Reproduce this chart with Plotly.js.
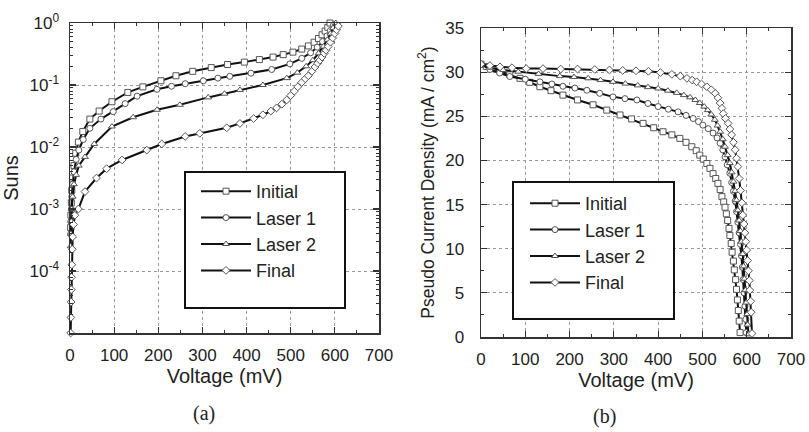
<!DOCTYPE html>
<html>
<head>
<meta charset="utf-8">
<script src="https://cdn.plot.ly/plotly-3.0.1.min.js"></script>
<style>
html,body{margin:0;padding:0;background:#fff;}
#chart{width:809px;height:432px;}
</style>
</head>
<body>
<div id="chart"></div>
<script>
// ---------- data ----------
var seriesNames = ["Initial", "Laser 1", "Laser 2", "Final"];
var seriesSymbols = ["square", "circle", "triangle-up", "diamond"];

// (a) Suns-Voc : voltage (mV) vs suns
var sunsV_initial = [1.5, 2, 3, 4, 6, 9, 13, 19, 29, 45, 66, 95, 131, 165, 206, 240, 278, 320, 357, 395, 429, 460, 483, 505, 525, 540, 553, 563, 571, 578, 584, 589, 594, 599];
var suns_initial = [0.000501, 0.000794, 0.00126, 0.00200, 0.00316, 0.00501, 0.00794, 0.0120, 0.0178, 0.0282, 0.0380, 0.0537, 0.0759, 0.0933, 0.117, 0.141, 0.166, 0.191, 0.214, 0.234, 0.257, 0.282, 0.309, 0.339, 0.380, 0.427, 0.490, 0.562, 0.646, 0.741, 0.851, 1.0, 1.20, 1.45];

var sunsV_laser1 = [1.5, 2, 3, 4, 6, 9, 14, 20, 30, 45, 70, 98, 125, 152, 197, 230, 261, 302, 335, 362, 410, 457, 498, 525, 545, 560, 572, 582, 590, 597, 603];
var suns_laser1 = [0.000398, 0.000631, 0.00100, 0.00158, 0.00251, 0.00398, 0.00631, 0.00891, 0.0132, 0.0200, 0.0282, 0.0372, 0.0501, 0.0661, 0.0851, 0.0955, 0.105, 0.117, 0.129, 0.138, 0.155, 0.178, 0.219, 0.269, 0.331, 0.407, 0.501, 0.617, 0.759, 0.933, 1.15];

var sunsV_laser2 = [1.5, 2, 3, 4, 6, 9, 14, 20, 34, 55, 95, 143, 197, 249, 313, 350, 385, 437, 491, 515, 535, 550, 563, 574, 583, 590, 596, 602, 607];
var suns_laser2 = [0.000251, 0.000398, 0.000631, 0.00100, 0.00158, 0.00251, 0.00355, 0.00501, 0.00692, 0.0112, 0.0214, 0.0302, 0.0398, 0.0479, 0.0631, 0.0724, 0.0832, 0.100, 0.129, 0.158, 0.200, 0.251, 0.324, 0.417, 0.537, 0.676, 0.832, 1.00, 1.20];

var sunsV_final = [1.5, 2, 2.5, 3, 3.5, 4, 5, 6, 8, 11, 19, 34, 60, 83, 118, 174, 208, 261, 294, 355, 385, 416, 437, 455, 468, 480, 491, 500, 508, 516, 525, 533, 540, 548, 555, 561, 566, 571, 576, 580, 585, 590, 595, 600, 604, 608, 612, 616];
var suns_final = [1.00e-5, 1.78e-5, 3.16e-5, 5.01e-5, 7.94e-5, 1.26e-4, 2.24e-4, 3.55e-4, 5.62e-4, 7.94e-4, 1.00e-3, 1.91e-3, 3.16e-3, 4.47e-3, 6.17e-3, 8.91e-3, 0.0112, 0.0148, 0.0166, 0.0204, 0.0240, 0.0288, 0.0331, 0.0380, 0.0427, 0.0490, 0.0575, 0.0676, 0.0794, 0.0933, 0.110, 0.126, 0.141, 0.166, 0.195, 0.224, 0.251, 0.282, 0.324, 0.363, 0.417, 0.490, 0.575, 0.676, 0.776, 0.891, 1.02, 1.20];

// (b) pseudo J-V : voltage (mV) vs current density (mA/cm2)
var jvV_initial = [0, 12, 25, 43, 65, 88, 110, 133, 158, 185, 218, 253, 284, 314, 340, 366, 390, 411, 431, 449, 463, 476, 486, 494, 502, 510, 517, 524, 530, 535, 540, 544, 548, 551, 554, 557, 560, 562, 565, 567, 570, 572, 575, 577, 579, 581, 583, 585];
var jvJ_initial = [30.9, 30.65, 30.4, 30.1, 29.7, 29.3, 28.85, 28.35, 27.9, 27.4, 26.85, 26.3, 25.7, 25.15, 24.7, 24.2, 23.7, 23.25, 22.9, 22.5, 22.05, 21.55, 21.1, 20.6, 20.15, 19.65, 19.1, 18.5, 17.95, 17.4, 16.7, 15.9, 15.3, 14.7, 13.95, 13.2, 12.3, 11.5, 10.6, 9.6, 8.6, 7.6, 6.5, 5.4, 4.2, 3.0, 1.8, 0.5];

var jvV_laser1 = [0, 20, 42, 65, 100, 133, 160, 185, 212, 239, 268, 298, 325, 352, 377, 400, 423, 445, 463, 479, 491, 501, 513, 524, 533, 540, 546, 551, 556, 562, 566, 570, 574, 577, 580, 583, 586, 588, 590, 592, 594, 596, 598, 599];
var jvJ_laser1 = [30.9, 30.3, 29.9, 29.5, 29.2, 28.9, 28.65, 28.4, 28.2, 27.95, 27.6, 27.2, 27.0, 26.85, 26.45, 26.1, 25.8, 25.5, 25.1, 24.75, 24.4, 24.0, 23.6, 23.1, 22.55, 21.95, 21.2, 20.4, 19.5, 18.55, 17.5, 16.5, 15.4, 14.2, 13.0, 11.8, 10.5, 9.2, 7.9, 6.5, 5.0, 3.5, 2.0, 0.5];

var jvV_laser2 = [0, 20, 50, 84, 130, 178, 210, 242, 270, 298, 326, 354, 377, 400, 422, 442, 458, 472, 484, 494, 504, 512, 520, 528, 534, 540, 546, 551, 557, 562, 566, 570, 574, 577, 580, 583, 586, 588, 591, 593, 595, 597, 599, 601, 602, 604];
var jvJ_laser2 = [30.9, 30.5, 30.25, 30.05, 29.8, 29.55, 29.45, 29.3, 29.1, 28.9, 28.7, 28.5, 28.3, 28.15, 27.9, 27.65, 27.4, 27.15, 26.85, 26.5, 26.1, 25.7, 25.2, 24.6, 23.95, 23.25, 22.4, 21.55, 20.6, 19.7, 18.65, 17.6, 16.55, 15.5, 14.35, 13.2, 12.0, 10.8, 9.4, 8.0, 6.6, 5.3, 3.9, 2.6, 1.4, 0.3];

var jvV_final = [0, 20, 43, 70, 102, 140, 180, 218, 257, 290, 320, 350, 378, 405, 431, 450, 465, 477, 487, 498, 510, 520, 529, 535, 540, 544, 547, 552, 558, 562, 566, 570, 574, 577, 580, 583, 586, 589, 591, 594, 596, 598, 600, 602, 604, 606, 607, 609, 610, 612];
var jvJ_final = [30.9, 30.75, 30.6, 30.5, 30.4, 30.4, 30.35, 30.35, 30.3, 30.25, 30.2, 30.15, 30.1, 29.95, 29.75, 29.55, 29.3, 29.1, 28.9, 28.65, 28.35, 28.0, 27.6, 27.1, 26.5, 25.9, 25.3, 24.75, 24.2, 23.55, 22.9, 22.05, 21.2, 20.25, 19.3, 17.95, 16.6, 15.2, 13.8, 12.8, 11.8, 10.8, 9.85, 8.65, 7.5, 6.4, 5.3, 4.05, 2.8, 0.4];

var xTickVals = [0, 100, 200, 300, 400, 500, 600, 700];
var sunsTickVals = [1e-4, 1e-3, 1e-2, 1e-1, 1];
var sunsTickText = ["10<sup>-4</sup>", "10<sup>-3</sup>", "10<sup>-2</sup>", "10<sup>-1</sup>", "10<sup>0</sup>"];
var sunsMinorVals = [2e-5,3e-5,4e-5,5e-5,6e-5,7e-5,8e-5,9e-5,2e-4,3e-4,4e-4,5e-4,6e-4,7e-4,8e-4,9e-4,2e-3,3e-3,4e-3,5e-3,6e-3,7e-3,8e-3,9e-3,2e-2,3e-2,4e-2,5e-2,6e-2,7e-2,8e-2,9e-2,0.2,0.3,0.4,0.5,0.6,0.7,0.8,0.9];
var jTickVals = [0, 5, 10, 15, 20, 25, 30, 35];

// ---------- figure ----------
var W = 809, H = 432;
function px(x){ return x / W; }
function py(y){ return (H - y) / H; }

var FONT = "Liberation Sans, Arial, sans-serif";
var TXT = "#222";

var sunsX = [sunsV_initial, sunsV_laser1, sunsV_laser2, sunsV_final];
var sunsY = [suns_initial, suns_laser1, suns_laser2, suns_final];
var jvX = [jvV_initial, jvV_laser1, jvV_laser2, jvV_final];
var jvY = [jvJ_initial, jvJ_laser1, jvJ_laser2, jvJ_final];

var traces = [];
for (var i = 0; i < 4; i++) {
  traces.push({
    type: "scatter", mode: "lines+markers",
    x: sunsX[i], y: sunsY[i], xaxis: "x", yaxis: "y",
    name: seriesNames[i], legend: "legend",
    cliponaxis: false,
    line: {color: "#111", width: 2},
    marker: {symbol: seriesSymbols[i], size: 6, color: "#fff", line: {color: "#555", width: 1}}
  });
}
for (var i = 0; i < 4; i++) {
  traces.push({
    type: "scatter", mode: "lines+markers",
    x: jvX[i], y: jvY[i], xaxis: "x2", yaxis: "y2",
    name: seriesNames[i], legend: "legend2",
    line: {color: "#111", width: 2},
    marker: {symbol: seriesSymbols[i], size: 6, color: "#fff", line: {color: "#555", width: 1}}
  });
}

function xAxis(dom, anchor) {
  return {
    domain: dom, anchor: anchor, range: [0, 700],
    tickmode: "array", tickvals: xTickVals,
    ticks: "inside", ticklen: 6, tickwidth: 1.2, tickcolor: "#333",
    minor: {dtick: 50, tick0: 0, ticks: "inside", ticklen: 3, tickwidth: 1, tickcolor: "#333", showgrid: false},
    showline: true, linecolor: "#333", linewidth: 1.5, mirror: "ticks",
    showgrid: true, gridcolor: "#999", gridwidth: 1, griddash: "dot",
    zeroline: false, ticklabelstandoff: 6,
    tickfont: {family: FONT, size: 17, color: TXT},
    title: {text: "Voltage (mV)", font: {family: FONT, size: 20, color: TXT}, standoff: 5}
  };
}

var layout = {
  width: W, height: H,
  margin: {l: 0, r: 0, t: 0, b: 0},
  paper_bgcolor: "#fff", plot_bgcolor: "#fff",
  showlegend: true,
  font: {family: FONT, color: TXT},
  xaxis: xAxis([px(70), px(379)], "y"),
  yaxis: {
    domain: [py(333), py(23)], anchor: "x", type: "log", range: [-5, 0],
    tickmode: "array", tickvals: sunsTickVals, ticktext: sunsTickText,
    ticks: "inside", ticklen: 6, tickwidth: 1.2, tickcolor: "#333",
    minor: {tickmode: "array", tickvals: sunsMinorVals, ticks: "inside", ticklen: 3, tickwidth: 1, tickcolor: "#333", showgrid: false},
    showline: true, linecolor: "#333", linewidth: 1.5, mirror: "ticks",
    showgrid: true, gridcolor: "#999", gridwidth: 1, griddash: "dot",
    zeroline: false, ticklabelstandoff: 6,
    tickfont: {family: FONT, size: 17, color: TXT},
    title: {text: "Suns", font: {family: FONT, size: 20, color: TXT}, standoff: 6}
  },
  xaxis2: xAxis([px(481), px(791)], "y2"),
  yaxis2: {
    domain: [py(337), py(28)], anchor: "x2", range: [0, 35],
    tickmode: "array", tickvals: jTickVals,
    ticks: "inside", ticklen: 6, tickwidth: 1.2, tickcolor: "#333",
    minor: {dtick: 2.5, tick0: 0, ticks: "inside", ticklen: 3, tickwidth: 1, tickcolor: "#333", showgrid: false},
    showline: true, linecolor: "#333", linewidth: 1.5, mirror: "ticks",
    showgrid: true, gridcolor: "#999", gridwidth: 1, griddash: "dot",
    zeroline: false, ticklabelstandoff: 12,
    tickfont: {family: FONT, size: 17, color: TXT},
    title: {text: "Pseudo Current Density (mA / cm<sup>2</sup>)", font: {family: FONT, size: 17.5, color: TXT}, standoff: 6}
  },
  legend: {
    x: px(196), y: py(173), xanchor: "left", yanchor: "top",
    bgcolor: "rgba(0,0,0,0)", borderwidth: 0, itemwidth: 50,
    font: {family: FONT, size: 18, color: TXT}, tracegroupgap: 0
  },
  legend2: {
    x: px(525), y: py(185), xanchor: "left", yanchor: "top",
    bgcolor: "rgba(0,0,0,0)", borderwidth: 0, itemwidth: 50,
    font: {family: FONT, size: 18, color: TXT}, tracegroupgap: 0
  },
  shapes: [
    {type: "rect", xref: "paper", yref: "paper", x0: px(185), x1: px(345), y0: py(308), y1: py(172),
     line: {color: "#111", width: 2}, fillcolor: "#fff", layer: "above"},
    {type: "rect", xref: "paper", yref: "paper", x0: px(513), x1: px(674), y0: py(319), y1: py(182),
     line: {color: "#111", width: 2}, fillcolor: "#fff", layer: "above"}
  ],
  annotations: [
    {text: "(a)", xref: "paper", yref: "paper", x: px(204), y: py(413), xanchor: "center", yanchor: "middle", showarrow: false,
     font: {family: "Liberation Serif, Times New Roman, serif", size: 20, color: TXT}},
    {text: "(b)", xref: "paper", yref: "paper", x: px(604), y: py(416), xanchor: "center", yanchor: "middle", showarrow: false,
     font: {family: "Liberation Serif, Times New Roman, serif", size: 20, color: TXT}}
  ]
};

Plotly.newPlot("chart", traces, layout, {displayModeBar: false, staticPlot: true});
</script>
</body>
</html>
